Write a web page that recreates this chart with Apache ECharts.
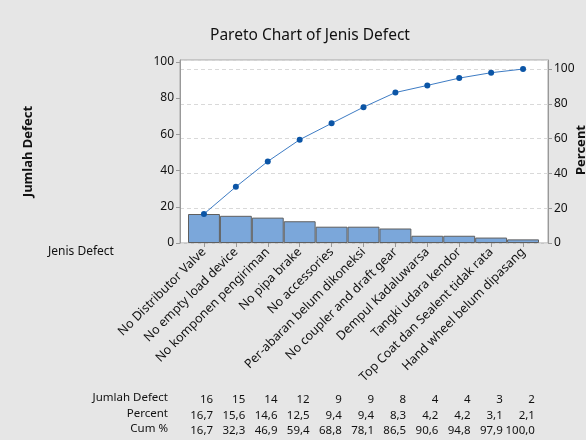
<!DOCTYPE html>
<html>
<head>
<meta charset="utf-8">
<script src="https://cdn.jsdelivr.net/npm/echarts@6/dist/echarts.min.js"></script>
<style>
  html, body { margin: 0; padding: 0; background: #e6e6e6; }
  #chart { width: 586px; height: 440px; }
</style>
</head>
<body>
<div id="chart"></div>
<script>
// data
var categories = [
  "No Distributor Valve",
  "No empty load device",
  "No komponen pengiriman",
  "No pipa brake",
  "No accessories",
  "Per-abaran belum dikoneksi",
  "No coupler and draft gear",
  "Dempul Kadaluwarsa",
  "Tangki udara kendor",
  "Top Coat dan Sealent tidak rata",
  "Hand wheel belum dipasang"
];
var counts = [16, 15, 14, 12, 9, 9, 8, 4, 4, 3, 2];
var percents = ["16,7", "15,6", "14,6", "12,5", "9,4", "9,4", "8,3", "4,2", "4,2", "3,1", "2,1"];
var cumPercents = ["16,7", "32,3", "46,9", "59,4", "68,8", "78,1", "86,5", "90,6", "94,8", "97,9", "100,0"];
var cumValues = [16.7, 32.3, 46.9, 59.4, 68.8, 78.1, 86.5, 90.6, 94.8, 97.9, 100.0];
var rowNames = ["Jumlah Defect", "Percent", "Cum %"];
var countTicks = [0, 20, 40, 60, 80, 100];
var percentTicks = [0, 20, 40, 60, 80, 100];

var FONT = "Noto Sans";
var total = counts.reduce(function (a, b) { return a + b; }, 0);
var countMax = 101;
var percentMax = countMax / total * 100;

var tableLabels = categories.map(function (c, i) {
  return counts[i] + "\n" + percents[i] + "\n" + cumPercents[i];
});

// row titles of the table, right aligned
var rowGraphics = rowNames.map(function (t, i) {
  return {
    type: "text",
    x: 168,
    y: 392 + i * 15.5,
    style: { text: t, fontSize: 11.5, align: "right", fill: "#111", fontFamily: FONT }
  };
});

var myChart = echarts.init(document.getElementById("chart"));
var option = {
  backgroundColor: "#e6e6e6",
  textStyle: { fontFamily: FONT },
  animation: false,
  title: {
    text: "Pareto Chart of Jenis Defect",
    left: 205,
    top: 23,
    textStyle: { fontFamily: FONT, fontSize: 15.5, fontWeight: "normal", color: "#111" }
  },
  grid: [
    // frame with both value axes
    { left: 180, right: 38, top: 60, bottom: 197, outerBoundsMode: "none", show: true, backgroundColor: "#fff", borderColor: "#a6a6a6", borderWidth: 1 },
    // bars and line
    { left: 188, right: 47, top: 60, bottom: 197, outerBoundsMode: "none" },
    // table under the chart
    { left: 197, right: 35, top: 380, height: 10, outerBoundsMode: "none" }
  ],
  xAxis: [
    { gridIndex: 0, type: "value", min: 0, max: 1, show: false },
    {
      gridIndex: 1,
      type: "category",
      data: categories,
      boundaryGap: true,
      axisLine: { show: false },
      axisTick: { show: true, alignWithLabel: true, length: 4, lineStyle: { color: "#999" } },
      axisLabel: { rotate: 45, interval: 0, margin: 7, fontSize: 12.5, color: "#111", fontFamily: FONT }
    },
    {
      gridIndex: 2,
      type: "category",
      data: tableLabels,
      axisLine: { show: false },
      axisTick: { show: false },
      axisLabel: { interval: 0, margin: 2, align: "right", fontSize: 11.5, lineHeight: 15.5, color: "#111", fontFamily: FONT }
    }
  ],
  yAxis: [
    {
      gridIndex: 0,
      type: "value",
      position: "left",
      min: 0,
      max: countMax,
      interval: 20,
      name: "Jumlah Defect",
      nameLocation: "middle",
      nameRotate: 90,
      nameGap: 145,
      nameTextStyle: { fontSize: 13, fontWeight: "bold", color: "#111", fontFamily: FONT },
      axisLine: { show: true, lineStyle: { color: "#999" } },
      axisTick: { show: true, length: 4, lineStyle: { color: "#999" } },
      axisLabel: {
        color: "#111", fontSize: 12, margin: 6, showMaxLabel: false,
        formatter: function (v) { return countTicks.indexOf(v) >= 0 ? v : ""; }
      },
      splitLine: { show: false }
    },
    {
      gridIndex: 0,
      type: "value",
      position: "right",
      min: 0,
      max: percentMax,
      interval: 20,
      axisLine: { show: true, lineStyle: { color: "#999" } },
      axisTick: { show: true, length: 4, lineStyle: { color: "#999" } },
      axisLabel: {
        color: "#111", fontSize: 12, margin: 6, showMaxLabel: false,
        formatter: function (v) { return percentTicks.indexOf(v) >= 0 ? v : ""; }
      },
      splitLine: { show: true, lineStyle: { type: [4, 3], color: "#d9d9d9" } }
    },
    { gridIndex: 1, type: "value", min: 0, max: countMax, show: false },
    { gridIndex: 1, type: "value", min: 0, max: percentMax, show: false },
    { gridIndex: 2, type: "value", show: false }
  ],
  graphic: [
    {
      type: "text",
      left: 48,
      top: 246,
      style: { text: "Jenis Defect", fontSize: 12, fill: "#111", fontFamily: FONT }
    },
    {
      // right axis title, cut by the edge as in the original
      type: "text",
      x: 575,
      y: 150,
      rotation: Math.PI / 2,
      style: { text: "Percent", fontSize: 13, fontWeight: "bold", align: "center", verticalAlign: "top", fill: "#111", fontFamily: FONT }
    }
  ].concat(rowGraphics),
  series: [
    {
      name: "Jumlah Defect",
      type: "bar",
      xAxisIndex: 1,
      yAxisIndex: 2,
      data: counts,
      barWidth: "100%",
      barCategoryGap: 0,
      itemStyle: { color: "#7ba7da", borderColor: "#5f5f5f", borderWidth: 1 }
    },
    {
      name: "Cum %",
      type: "line",
      xAxisIndex: 1,
      yAxisIndex: 3,
      data: cumValues,
      symbol: "circle",
      symbolSize: 6,
      lineStyle: { color: "#3e7cc4", width: 1 },
      itemStyle: { color: "#0b55a6" }
    }
  ]
};
myChart.setOption(option);
</script>
</body>
</html>
